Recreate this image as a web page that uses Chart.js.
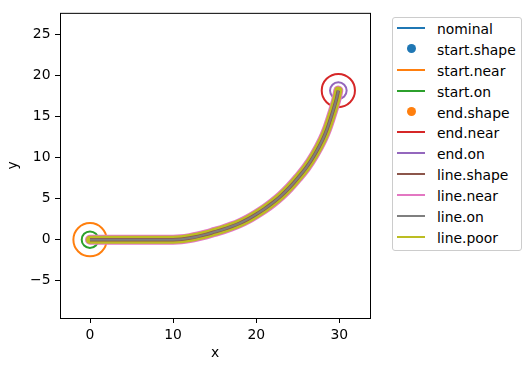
<!DOCTYPE html>
<html>
<head>
<meta charset="utf-8">
<script src="https://cdn.jsdelivr.net/npm/chart.js@4/dist/chart.umd.min.js"></script>
<style>
  html, body { margin: 0; padding: 0; background: #fff; }
  #wrap { position: relative; width: 530px; height: 371px; font-family: 'DejaVu Sans', sans-serif; }
  #legend { position: absolute; left: 392px; top: 17px; width: 130px; height: 234px; box-sizing: border-box;
            border: 1px solid #cccccc; border-radius: 3px; background: #fff; }
  .sw { position: absolute; }
  .lbl { position: absolute; font-size: 13.9px; line-height: 16px; color: #000; white-space: nowrap; }
</style>
</head>
<body>
<div id="wrap">
  <canvas id="c" width="530" height="371"></canvas>
  <div id="legend"></div>
</div>
<script>
// nominal path
const pathX = [0, 5, 10, 11, 12, 13, 14, 15, 16, 17, 18, 19, 20, 21, 22, 23, 24, 25, 26, 27, 28, 28.5, 29, 29.4, 29.7, 29.88];
const pathY = [0, 0, 0, 0.05, 0.2, 0.4, 0.65, 0.95, 1.25, 1.6, 2.0, 2.5, 3.1, 3.75, 4.5, 5.35, 6.35, 7.5, 8.75, 10.3, 12.2, 13.4, 14.9, 16.2, 17.3, 18.15];

const startPt = [0, 0];
const endPt = [29.88, 18.15];
const nearR = 2;   // radius of the *.near circles (data units)
const onR = 1;     // radius of the *.on circles

const xTicks = [0, 10, 20, 30];
const yTicks = [-5, 0, 5, 10, 15, 20, 25];

const names = ['nominal', 'start.shape', 'start.near', 'start.on', 'end.shape',
               'end.near', 'end.on', 'line.shape', 'line.near', 'line.on', 'line.poor'];
const colors = ['#1f77b4', '#1f77b4', '#ff7f0e', '#2ca02c', '#ff7f0e',
                '#d62728', '#9467bd', '#8c564b', '#e377c2', '#7f7f7f', '#bcbd22'];
const dots = ['start.shape', 'end.shape'];

const FONT = 'DejaVu Sans';

function path() {
  return pathX.map(function (x, i) { return {x: x, y: pathY[i]}; });
}
function pt(p) { return [{x: p[0], y: p[1]}]; }
function rpx(r) {
  return function (ctx) {
    const s = ctx.chart.scales.x;
    return s.getPixelForValue(r) - s.getPixelForValue(0);
  };
}
function lineSet(i, w, order, cap) {
  return {label: names[i], data: path(), showLine: true, borderColor: colors[i], borderWidth: w,
          pointRadius: 0, cubicInterpolationMode: 'monotone', borderJoinStyle: 'round',
          borderCapStyle: cap || 'butt', order: order};
}
function dotSet(i, p, order) {
  return {label: names[i], data: pt(p), pointRadius: 4.2, pointBackgroundColor: colors[i],
          pointBorderWidth: 0, order: order};
}
function ringSet(i, p, r, order) {
  return {label: names[i], data: pt(p), pointRadius: rpx(r), pointBackgroundColor: 'rgba(0,0,0,0)',
          pointBorderColor: colors[i], pointBorderWidth: 2, order: order};
}

const datasets = [
  lineSet(0, 2, 11),
  dotSet(1, startPt, 10),
  ringSet(2, startPt, nearR, 9),
  ringSet(3, startPt, onR, 8),
  dotSet(4, endPt, 7),
  ringSet(5, endPt, nearR, 6),
  ringSet(6, endPt, onR, 5),
  lineSet(7, 3.5, 1),
  lineSet(8, 10, 3, 'round'),
  lineSet(9, 2, 0),
  lineSet(10, 8, 2, 'round')
];

const frame = {
  id: 'frame',
  afterDraw(chart) {
    const a = chart.chartArea, ctx = chart.ctx;
    ctx.save();
    ctx.strokeStyle = '#000';
    ctx.lineWidth = 1;
    ctx.strokeRect(a.left + 0.5, a.top + 0.5, a.right - a.left, a.bottom - a.top);
    ctx.restore();
  }
};

function minus(v) { return v < 0 ? '\u2212' + Math.abs(v) : String(v); }

const tickFont = {family: FONT, size: 13.9};
const grid = {drawOnChartArea: false, drawTicks: true, tickLength: 5, color: '#000', lineWidth: 1};

new Chart(document.getElementById('c'), {
  type: 'scatter',
  data: {datasets: datasets},
  options: {
    responsive: false,
    devicePixelRatio: 1,
    animation: false,
    events: [],
    layout: {padding: {left: 0, top: 10, right: 160, bottom: 0}},
    plugins: {legend: {display: false}, tooltip: {enabled: false}},
    scales: {
      x: {
        type: 'linear', position: 'bottom', min: -3.61, max: 33.69,
        afterFit: function (s) { s.height = 53; },
        afterBuildTicks: function (s) { s.ticks = xTicks.map(function (v) { return {value: v}; }); },
        grid: grid,
        border: {display: false},
        ticks: {color: '#000', font: tickFont, padding: 4.5, maxRotation: 0, autoSkip: false, callback: minus},
        title: {display: true, text: 'x', color: '#000', font: tickFont, padding: {top: 0, bottom: 9.6}}
      },
      y: {
        type: 'linear', position: 'left', min: -9.53, max: 27.61,
        afterFit: function (s) { s.width = 60; },
        afterBuildTicks: function (s) { s.ticks = yTicks.map(function (v) { return {value: v}; }); },
        grid: grid,
        border: {display: false},
        ticks: {color: '#000', font: tickFont, padding: 4.5, autoSkip: false, callback: minus},
        title: {display: true, text: 'y', color: '#000', font: tickFont, padding: {top: 5.3, bottom: 0}}
      }
    }
  },
  plugins: [frame]
});

// legend
const wrap = document.getElementById('wrap');
names.forEach(function (n, i) {
  const cy = 27.7 + i * 20.95;
  const sw = document.createElement('div');
  sw.className = 'sw';
  if (dots.indexOf(n) >= 0) {
    sw.style.cssText = 'left:406.5px;top:' + (cy - 4.5) + 'px;width:9px;height:9px;border-radius:50%;background:' + colors[i];
  } else {
    sw.style.cssText = 'left:397px;top:' + (cy - 1) + 'px;width:28px;height:2px;background:' + colors[i];
  }
  wrap.appendChild(sw);
  const t = document.createElement('span');
  t.className = 'lbl';
  t.style.left = '437px';
  t.style.top = (cy - 7) + 'px';
  t.textContent = n;
  wrap.appendChild(t);
});
</script>
</body>
</html>
